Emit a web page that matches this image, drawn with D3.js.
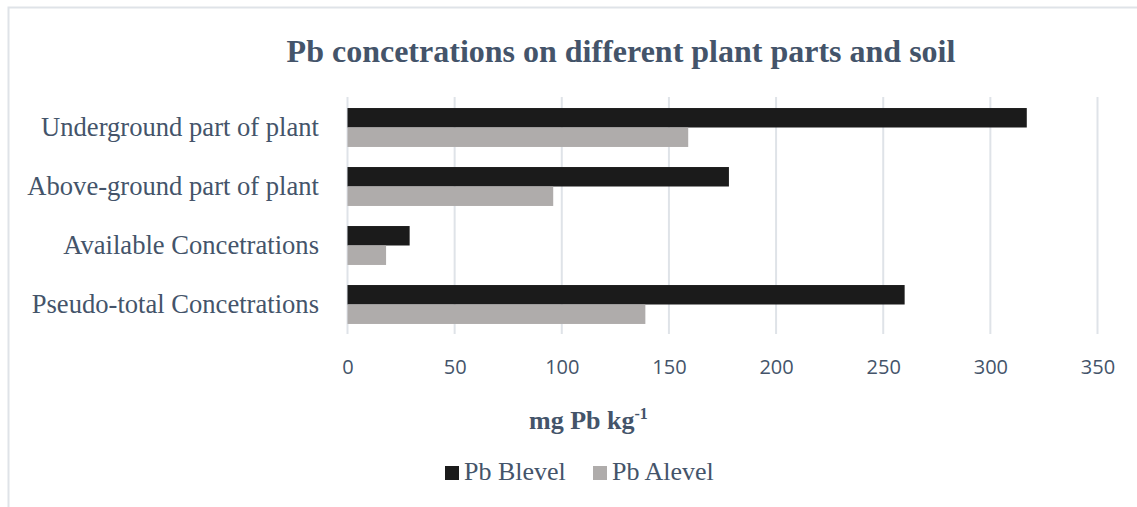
<!DOCTYPE html>
<html>
<head>
<meta charset="utf-8">
<script src="https://cdn.jsdelivr.net/npm/d3@7"></script>
<style>
  body { margin: 0; background: #fff; }
  svg { display: block; }
</style>
</head>
<body>
<div id="chart"></div>
<script>
// categories top to bottom, as shown
const categories = [
    "Underground part of plant",
    "Above-ground part of plant",
    "Available Concetrations",
    "Pseudo-total Concetrations"
];
const seriesNames = ["Pb Blevel", "Pb Alevel"];
const blevel = [317, 178, 29, 260];
const alevel = [159, 96, 18, 139];
const xTicks = [0, 50, 100, 150, 200, 250, 300, 350];
const seriesColors = ["#1b1b1b", "#afacab"];

const width = 1137, height = 507;
const textColor = "#44546a";
const gridColor = "#dfe3e8";

const rows = categories.map((c, i) => ({ category: c, values: [blevel[i], alevel[i]] }));

const svg = d3.select("#chart")
    .append("svg")
    .attr("width", width)
    .attr("height", height);

// chart frame (only top and left edges are visible in the picture)
svg.append("rect")
    .attr("x", 8.5)
    .attr("y", 7.5)
    .attr("width", 1140)
    .attr("height", 520)
    .attr("fill", "#fff")
    .attr("stroke", gridColor)
    .attr("stroke-width", 2);

const x = d3.scaleLinear()
    .domain([0, 350])
    .range([347.5, 1097.5]);

const y = d3.scaleBand()
    .domain(categories)
    .range([98, 334])
    .paddingInner(0.34)
    .paddingOuter(0.17);

const ySub = d3.scaleBand()
    .domain(seriesNames)
    .range([0, y.bandwidth()]);

// gridlines
svg.append("g")
    .selectAll("line")
    .data(xTicks)
    .join("line")
    .attr("x1", d => x(d))
    .attr("x2", d => x(d))
    .attr("y1", 97)
    .attr("y2", 334)
    .attr("stroke", gridColor)
    .attr("stroke-width", 2);

// bars
const groups = svg.append("g")
    .selectAll("g")
    .data(rows)
    .join("g")
    .attr("transform", d => `translate(0, ${y(d.category)})`);

groups.selectAll("rect")
    .data(d => d.values.map((v, i) => ({ series: seriesNames[i], value: v, idx: i })))
    .join("rect")
    .attr("x", x(0))
    .attr("y", d => ySub(d.series))
    .attr("width", d => x(d.value) - x(0))
    .attr("height", ySub.bandwidth())
    .attr("fill", d => seriesColors[d.idx]);

// category axis
const yAxis = svg.append("g")
    .attr("transform", `translate(${x(0)}, 0)`)
    .call(d3.axisLeft(y).tickSize(0).tickPadding(28.5));
yAxis.select(".domain").remove();
yAxis.selectAll("text")
    .attr("font-family", "'Liberation Serif', 'Times New Roman', serif")
    .attr("font-size", 26.6)
    .attr("fill", textColor);

// value axis
const xAxis = svg.append("g")
    .attr("transform", "translate(0, 357)")
    .call(d3.axisBottom(x).tickValues(xTicks).tickSize(0).tickPadding(3));
xAxis.select(".domain").remove();
xAxis.selectAll("text")
    .attr("font-family", "'Open Sans', sans-serif")
    .attr("font-size", 20)
    .attr("fill", textColor);

// title
svg.append("text")
    .attr("x", 621)
    .attr("y", 62)
    .attr("text-anchor", "middle")
    .attr("font-family", "'Liberation Serif', 'Times New Roman', serif")
    .attr("font-weight", "bold")
    .attr("font-size", 32)
    .attr("fill", textColor)
    .text("Pb concetrations on different plant parts and soil");

// axis title with superscript
const axisTitle = svg.append("text")
    .attr("x", 529)
    .attr("y", 429)
    .attr("font-family", "'Liberation Serif', 'Times New Roman', serif")
    .attr("font-weight", "bold")
    .attr("font-size", 26)
    .attr("fill", textColor);
axisTitle.append("tspan").text("mg Pb kg");
axisTitle.append("tspan")
    .attr("font-size", 16)
    .attr("dy", -10)
    .text("-1");

// legend
const legendX = d3.scalePoint()
    .domain(seriesNames)
    .range([445, 593]);

const legend = svg.append("g")
    .selectAll("g")
    .data(seriesNames)
    .join("g")
    .attr("transform", d => `translate(${legendX(d)}, 466)`);

legend.append("rect")
    .attr("width", 14)
    .attr("height", 14)
    .attr("fill", (d, i) => seriesColors[i]);

legend.append("text")
    .attr("x", 19)
    .attr("y", 14)
    .attr("font-family", "'Liberation Serif', 'Times New Roman', serif")
    .attr("font-size", 26)
    .attr("fill", textColor)
    .text(d => d);
</script>
</body>
</html>
